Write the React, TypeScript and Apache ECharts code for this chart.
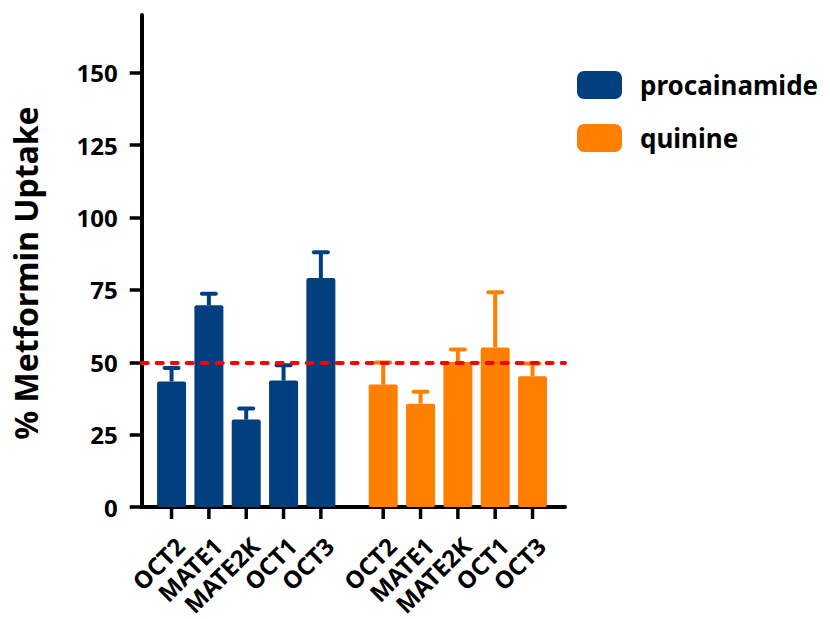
import React, { useEffect, useRef } from "react";
import * as echarts from "echarts";

const transporters = ["OCT2", "MATE1", "MATE2K", "OCT1", "OCT3"];
const seriesNames = ["procainamide", "quinine"];
const procainamideMean = [43.4, 69.7, 30.2, 43.7, 79.1];
const procainamideSem = [4.6, 4.0, 3.8, 5.3, 8.9];
const quinineMean = [42.3, 35.7, 50.1, 55.1, 45.2];
const quinineSem = [7.6, 4.1, 4.3, 19.1, 4.4];
const yTicks = [0, 25, 50, 75, 100, 125, 150];
const threshold = 50;

const BLUE = "#023F7E";
const ORANGE = "#FF8000";
const GROUP_OFFSET = 5.67;
const FONT = "Noto Sans";

export default function App() {
  const ref = useRef<HTMLDivElement>(null);
  useEffect(() => {
    if (!ref.current) return;
    const chart = echarts.init(ref.current, null, { renderer: "svg" });

    const pos1 = transporters.map((_, i) => i);
    const pos2 = transporters.map((_, i) => i + GROUP_OFFSET);
    const allPos = [...pos1, ...pos2];
    const allLabels = [...transporters, ...transporters];
    const labelFor = (v: number) => {
      const idx = allPos.findIndex((p) => Math.abs(p - v) < 0.01);
      return idx >= 0 ? allLabels[idx] : "";
    };

    const errSeries = (pos: number[], mean: number[], sem: number[], color: string, extra: any = {}) => ({
      type: "custom",
      name: "err",
      z: 3,
      data: pos.map((p, i) => [p, mean[i], sem[i]]),
      renderItem: (params: any, api: any) => {
        const x = api.value(0);
        const m = api.value(1);
        const e = api.value(2);
        const b = api.coord([x, m]);
        const t = api.coord([x, m + e]);
        return {
          type: "group",
          children: [
            { type: "line", shape: { x1: b[0], y1: b[1], x2: t[0], y2: t[1] }, style: { stroke: color, lineWidth: 4 } },
            { type: "line", shape: { x1: t[0] - 7, y1: t[1], x2: t[0] + 7, y2: t[1] }, style: { stroke: color, lineWidth: 4, lineCap: "round" } },
          ],
        };
      },
      ...extra,
    });

    // category tick marks drawn through the x scale
    const tickSeries = {
      type: "custom",
      name: "ticks",
      z: 4,
      silent: true,
      clip: false,
      data: allPos.map((p) => [p, 0]),
      renderItem: (params: any, api: any) => {
        const c = api.coord([api.value(0), 0]);
        return {
          type: "line",
          shape: { x1: c[0], y1: c[1] + 1, x2: c[0], y2: c[1] + 12 },
          style: { stroke: "#000", lineWidth: 3.5 },
        };
      },
    };

    chart.setOption({
      animation: false,
      backgroundColor: "#ffffff",
      textStyle: { fontFamily: FONT },
      grid: { left: 141.7, right: 265, top: 15, bottom: 112, containLabel: false, outerBoundsMode: "none" },
      legend: {
        data: seriesNames,
        orient: "vertical",
        left: 577,
        top: 71,
        itemWidth: 45,
        itemHeight: 28,
        itemGap: 25,
        icon: "roundRect",
        padding: 0,
        textStyle: { fontFamily: FONT, fontWeight: "bold", fontSize: 26, color: "#000", padding: [0, 0, 0, 13] },
      },
      xAxis: {
        type: "value",
        min: -0.8,
        max: 10.54,
        splitLine: { show: false },
        axisLine: { show: true, onZero: false, lineStyle: { color: "#000", width: 4 } },
        axisTick: { show: false },
        axisLabel: {
          show: true,
          customValues: allPos,
          rotate: 45,
          margin: 26,
          verticalAlign: "top",
          formatter: (v: number) => labelFor(v),
          fontFamily: FONT,
          fontWeight: "bold",
          fontSize: 24,
          color: "#000",
        },
      },
      yAxis: {
        type: "value",
        min: 0,
        max: 170,
        name: "% Metformin Uptake",
        nameLocation: "middle",
        nameGap: 100,
        nameTextStyle: { fontFamily: FONT, fontWeight: "bold", fontSize: 32, color: "#000", padding: [0, 24, 0, 0] },
        splitLine: { show: false },
        axisLine: { show: true, onZero: false, lineStyle: { color: "#000", width: 4 } },
        axisTick: { show: true, customValues: yTicks, length: 12, lineStyle: { color: "#000", width: 3.5 } },
        axisLabel: {
          customValues: yTicks,
          margin: 24,
          fontFamily: FONT,
          fontWeight: "bold",
          fontSize: 24,
          color: "#000",
        },
      },
      series: [
        {
          type: "bar",
          name: seriesNames[0],
          barWidth: 29,
          itemStyle: { color: BLUE, borderRadius: 2 },
          data: pos1.map((p, i) => [p, procainamideMean[i]]),
        },
        {
          type: "bar",
          name: seriesNames[1],
          barWidth: 29,
          barGap: "-100%",
          itemStyle: { color: ORANGE, borderRadius: 2 },
          data: pos2.map((p, i) => [p, quinineMean[i]]),
        },
        errSeries(pos1, procainamideMean, procainamideSem, BLUE),
        errSeries(pos2, quinineMean, quinineSem, ORANGE, {
          markLine: {
            silent: true,
            symbol: "none",
            label: { show: false },
            lineStyle: { color: "#FF0000", width: 4, type: [6, 9], cap: "round" },
            data: [{ yAxis: threshold }],
          },
        }),
        tickSeries,
      ],
    });
    return () => chart.dispose();
  }, []);
  return <div ref={ref} style={{ position: "fixed", left: 0, top: 0, width: 830, height: 619, background: "#fff" }} />;
}
